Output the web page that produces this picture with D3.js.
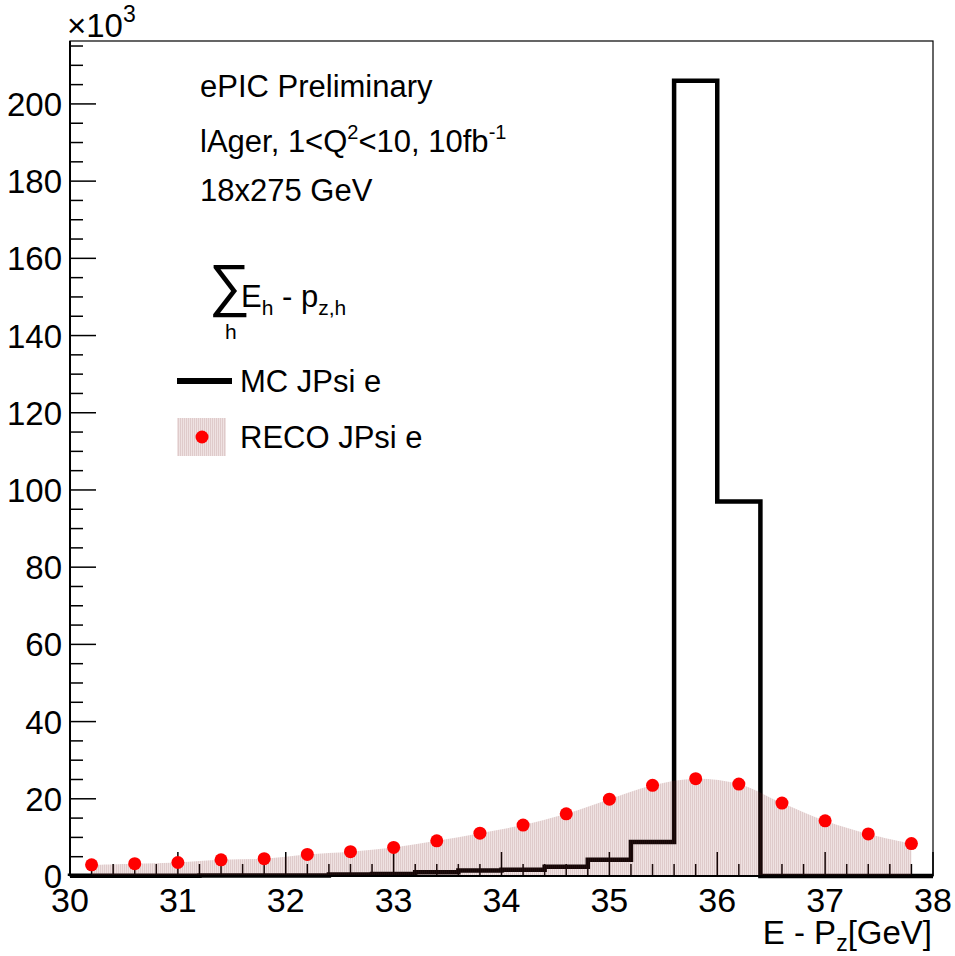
<!DOCTYPE html>
<html>
<head>
<meta charset="utf-8">
<script src="https://cdn.jsdelivr.net/npm/d3@7"></script>
<style>
  body { margin: 0; background: #fff; }
  svg { display: block; font-family: "Liberation Sans", Arial, Helvetica, sans-serif; }
</style>
</head>
<body>
<svg id="chart"></svg>
<script>
// bin edges of both histograms: 20 bins of 0.4 GeV from 30 to 38
var binLow = [30.0, 30.4, 30.8, 31.2, 31.6, 32.0, 32.4, 32.8, 33.2, 33.6,
              34.0, 34.4, 34.8, 35.2, 35.6, 36.0, 36.4, 36.8, 37.2, 37.6];
var binWidth = 0.4;

// MC JPsi e (counts, x10^3)
var mcCounts = [0.05, 0.05, 0.08, 0.1, 0.12, 0.15, 0.4, 0.5, 1.0, 1.4,
                1.6, 2.4, 4.2, 8.8, 206, 97, 0, 0, 0, 0];

// RECO JPsi e (counts, x10^3) at bin centres
var recoCounts = [2.9, 3.2, 3.5, 4.2, 4.5, 5.6, 6.3, 7.4, 9.1, 11.1,
                  13.2, 16.1, 19.9, 23.5, 25.2, 23.8, 18.9, 14.3, 10.9, 8.4];

var xTicks = [30, 31, 32, 33, 34, 35, 36, 37, 38];
var yTicks = [0, 20, 40, 60, 80, 100, 120, 140, 160, 180, 200];

(function() {
    var width = 955, height = 956;
    var padL = 70, padR = 933, padT = 41, padB = 876;

    var svg = d3.select('#chart')
        .attr('width', width)
        .attr('height', height);

    var x = d3.scaleLinear().domain([30, 38]).range([padL, padR]);
    var y = d3.scaleLinear().domain([0, 216.3]).range([padB, padT]);

    // hatched pink fill of the reco histogram
    var pat = svg.append('defs').append('pattern')
        .attr('id', 'hatch')
        .attr('patternUnits', 'userSpaceOnUse')
        .attr('width', 2)
        .attr('height', 2);
    pat.append('rect')
        .attr('width', 2).attr('height', 2)
        .attr('fill', 'rgba(140,50,50,0.14)');
    pat.append('rect')
        .attr('width', 1).attr('height', 2)
        .attr('fill', 'rgba(110,40,40,0.12)');

    // axes: ticks go inside the frame, like ROOT
    var xMinor = d3.range(0, 41).map(function(i) { return 30 + i * 0.2; });
    svg.append('g').selectAll('line')
        .data(xMinor)
        .enter().append('line')
        .attr('x1', function(d) { return x(d); })
        .attr('x2', function(d) { return x(d); })
        .attr('y1', padB)
        .attr('y2', function(d, i) { return i % 5 === 0 ? padB - 24 : padB - 12; })
        .attr('stroke', '#000')
        .attr('stroke-width', 1.5);

    var yMinor = d3.range(0, 216, 5);
    svg.append('g').selectAll('line')
        .data(yMinor)
        .enter().append('line')
        .attr('x1', padL)
        .attr('x2', function(d) { return d % 20 === 0 ? padL + 26 : padL + 13; })
        .attr('y1', function(d) { return y(d); })
        .attr('y2', function(d) { return y(d); })
        .attr('stroke', '#000')
        .attr('stroke-width', 1.5);

    svg.append('g').selectAll('text')
        .data(xTicks)
        .enter().append('text')
        .attr('x', function(d) { return x(d); })
        .attr('y', 912)
        .attr('text-anchor', 'middle')
        .attr('font-size', 34)
        .text(function(d) { return d; });

    svg.append('g').selectAll('text')
        .data(yTicks)
        .enter().append('text')
        .attr('x', 62)
        .attr('y', function(d) { return y(d) + 12; })
        .attr('text-anchor', 'end')
        .attr('font-size', 33)
        .text(function(d) { return d; });

    var mult = svg.append('text')
        .attr('x', 67)
        .attr('y', 37)
        .attr('font-size', 33);
    mult.append('tspan').text('\u00d710');
    mult.append('tspan').attr('font-size', 23).attr('dy', -15).text('3');

    var xt = svg.append('text')
        .attr('x', 932)
        .attr('y', 944)
        .attr('text-anchor', 'end')
        .attr('font-size', 33);
    xt.append('tspan').text('E - P');
    xt.append('tspan').attr('font-size', 23).attr('dy', 7).text('z');
    xt.append('tspan').attr('dy', -7).text('[GeV]');

    // MC histogram as a step outline
    var mcPts = [[30, 0]];
    binLow.forEach(function(b, i) {
        mcPts.push([b, mcCounts[i]]);
        mcPts.push([b + binWidth, mcCounts[i]]);
    });
    mcPts.push([38, 0]);
    svg.append('path')
        .datum(mcPts)
        .attr('d', d3.line()
            .x(function(d) { return x(d[0]); })
            .y(function(d) { return y(d[1]); }))
        .attr('fill', 'none')
        .attr('stroke', '#000')
        .attr('stroke-width', 4.5)
        .attr('stroke-linejoin', 'miter');

    // reco as smooth filled area through bin centres
    var recoPts = binLow.map(function(b, i) { return [b + binWidth / 2, recoCounts[i]]; });
    svg.append('path')
        .datum(recoPts)
        .attr('d', d3.area()
            .curve(d3.curveCatmullRom)
            .x(function(d) { return x(d[0]); })
            .y0(y(0))
            .y1(function(d) { return y(d[1]); }))
        .attr('fill', 'url(#hatch)');

    svg.append('g').selectAll('circle')
        .data(recoPts)
        .enter().append('circle')
        .attr('cx', function(d) { return x(d[0]); })
        .attr('cy', function(d) { return y(d[1]); })
        .attr('r', 6.5)
        .attr('fill', '#ff0000');

    // frame
    svg.append('rect')
        .attr('x', padL).attr('y', padT)
        .attr('width', padR - padL).attr('height', padB - padT)
        .attr('fill', 'none')
        .attr('stroke', '#000')
        .attr('stroke-width', 1.2);
    svg.append('line')
        .attr('x1', padL).attr('x2', padL)
        .attr('y1', padT).attr('y2', padB)
        .attr('stroke', '#000').attr('stroke-width', 2);
    svg.append('line')
        .attr('x1', padL).attr('x2', padR)
        .attr('y1', padB).attr('y2', padB)
        .attr('stroke', '#000').attr('stroke-width', 2);

    // labels
    var fs = 31;
    svg.append('text').attr('x', 200).attr('y', 97).attr('font-size', fs).text('ePIC Preliminary');

    var l2 = svg.append('text').attr('x', 200).attr('y', 152).attr('font-size', fs);
    l2.append('tspan').text('lAger, 1<Q');
    l2.append('tspan').attr('font-size', 20).attr('dy', -13).text('2');
    l2.append('tspan').attr('dy', 13).text('<10, 10fb');
    l2.append('tspan').attr('font-size', 20).attr('dy', -13).text('-1');

    svg.append('text').attr('x', 200).attr('y', 201).attr('font-size', fs).text('18x275 GeV');

    svg.append('text').attr('x', 209).attr('y', 305).attr('font-size', 58).text('\u2211');
    svg.append('text').attr('x', 225).attr('y', 339).attr('font-size', 21).text('h');
    var sm = svg.append('text').attr('x', 241).attr('y', 307).attr('font-size', fs);
    sm.append('tspan').text('E');
    sm.append('tspan').attr('font-size', 21).attr('dy', 8).text('h');
    sm.append('tspan').attr('dy', -8).text(' - p');
    sm.append('tspan').attr('font-size', 21).attr('dy', 8).text('z,h');

    // legend
    svg.append('line')
        .attr('x1', 177).attr('x2', 232)
        .attr('y1', 381).attr('y2', 381)
        .attr('stroke', '#000').attr('stroke-width', 6);
    svg.append('text').attr('x', 240).attr('y', 392).attr('font-size', fs).text('MC JPsi e');

    svg.append('rect')
        .attr('x', 177).attr('y', 418)
        .attr('width', 49).attr('height', 38)
        .attr('fill', 'url(#hatch)');
    svg.append('circle').attr('cx', 202).attr('cy', 437).attr('r', 6.5).attr('fill', '#ff0000');
    svg.append('text').attr('x', 240).attr('y', 448).attr('font-size', fs).text('RECO JPsi e');
})();
</script>
</body>
</html>
